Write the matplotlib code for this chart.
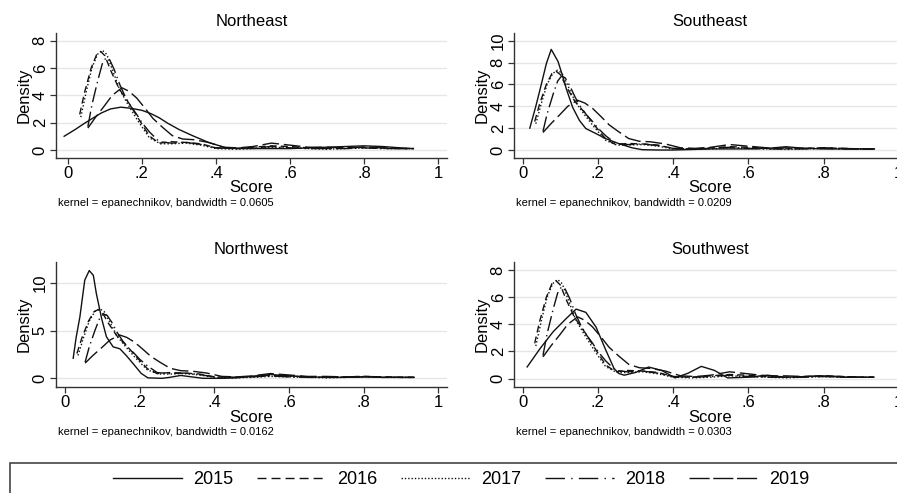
import matplotlib
matplotlib.use("Agg")
from matplotlib import pyplot as plt
from matplotlib.patches import Rectangle

plt.rcParams['font.family'] = ['Liberation Sans', 'DejaVu Sans']

W, H = 897, 493

years = ['2015', '2016', '2017', '2018', '2019']
regions = ['Northeast', 'Southeast', 'Northwest', 'Southwest']
bandwidths = ['0.0605', '0.0209', '0.0162', '0.0303']

# 2015 curve differs per region
ne_x15 = [-0.01, 0.02, 0.045, 0.066, 0.09, 0.115, 0.143, 0.17, 0.2, 0.225, 0.247, 0.27, 0.3, 0.338,
          0.38, 0.428, 0.46, 0.5, 0.55, 0.6, 0.65, 0.7, 0.75, 0.8, 0.85, 0.9, 0.93]
ne_y15 = [1.0, 1.5, 1.95, 2.3, 2.7, 3.0, 3.13, 3.05, 2.9, 2.65, 2.35, 1.95, 1.5, 1.03,
          0.55, 0.15, 0.1, 0.1, 0.1, 0.1, 0.15, 0.2, 0.25, 0.3, 0.25, 0.15, 0.1]
se_x15 = [0.019, 0.035, 0.046, 0.063, 0.076, 0.094, 0.105, 0.116, 0.133, 0.151, 0.168, 0.195, 0.221,
          0.256, 0.291, 0.318, 0.36, 0.4, 0.45, 0.5, 0.55, 0.6, 0.65, 0.7, 0.75, 0.8, 0.85, 0.9, 0.935]
se_y15 = [2.0, 4.0, 5.5, 7.9, 9.2, 8.1, 6.9, 5.6, 3.9, 2.7, 1.96, 1.5, 1.04,
          0.58, 0.2, 0.03, 0.0, 0.0, 0.05, 0.1, 0.1, 0.1, 0.15, 0.3, 0.15, 0.1, 0.1, 0.1, 0.1]
nw_x15 = [0.022, 0.03, 0.04, 0.053, 0.065, 0.076, 0.084, 0.098, 0.111, 0.129, 0.147, 0.164, 0.182,
          0.204, 0.222, 0.26, 0.28, 0.31, 0.34, 0.37, 0.42, 0.46, 0.5, 0.55, 0.6, 0.65, 0.7, 0.75,
          0.8, 0.85, 0.9, 0.935]
nw_y15 = [2.1, 4.3, 6.45, 10.3, 11.3, 10.8, 8.9, 6.3, 4.36, 3.3, 3.1, 2.4, 1.57,
          0.52, 0.05, 0.0, 0.1, 0.3, 0.15, 0.0, 0.0, 0.05, 0.2, 0.4, 0.25, 0.15, 0.1, 0.1,
          0.15, 0.1, 0.1, 0.1]
sw_x15 = [0.012, 0.046, 0.081, 0.116, 0.142, 0.168, 0.195, 0.221, 0.243, 0.256, 0.27, 0.3, 0.335,
          0.37, 0.405, 0.44, 0.475, 0.51, 0.545, 0.6, 0.65, 0.7, 0.75, 0.8, 0.85, 0.9, 0.93]
sw_y15 = [0.86, 2.2, 3.45, 4.43, 5.12, 4.88, 3.8, 2.1, 0.74, 0.37, 0.25, 0.45, 0.85,
          0.6, 0.05, 0.4, 0.9, 0.6, 0.05, 0.1, 0.25, 0.1, 0.15, 0.2, 0.1, 0.1, 0.1]

# 2016-2019 curves look the same in every panel
x16 = [0.032, 0.045, 0.063, 0.078, 0.089, 0.1, 0.116, 0.138, 0.168, 0.195, 0.221, 0.247, 0.28, 0.32,
       0.36, 0.4, 0.45, 0.5, 0.55, 0.6, 0.65, 0.7, 0.75, 0.8, 0.85, 0.9, 0.93]
y16 = [2.6, 4.2, 6.0, 7.0, 7.2, 6.9, 5.8, 4.5, 3.3, 2.1, 1.0, 0.5, 0.6, 0.55,
       0.45, 0.15, 0.1, 0.2, 0.3, 0.25, 0.15, 0.1, 0.15, 0.2, 0.15, 0.1, 0.1]
x17 = [0.035, 0.05, 0.065, 0.08, 0.093, 0.105, 0.12, 0.14, 0.165, 0.19, 0.22, 0.25, 0.28, 0.32,
       0.36, 0.4, 0.45, 0.5, 0.55, 0.6, 0.65, 0.7, 0.75, 0.8, 0.85, 0.9, 0.935]
y17 = [2.4, 4.3, 6.0, 7.0, 7.3, 7.0, 5.9, 4.4, 3.2, 2.1, 0.9, 0.45, 0.45, 0.5,
       0.35, 0.1, 0.05, 0.1, 0.2, 0.15, 0.1, 0.05, 0.1, 0.15, 0.1, 0.1, 0.1]
x18 = [0.054, 0.065, 0.081, 0.093, 0.103, 0.113, 0.125, 0.14, 0.155, 0.17, 0.186, 0.2, 0.221, 0.247,
       0.28, 0.32, 0.36, 0.4, 0.45, 0.5, 0.55, 0.6, 0.65, 0.7, 0.75, 0.8, 0.85, 0.9, 0.935]
y18 = [1.7, 3.3, 5.1, 6.3, 6.75, 6.6, 5.9, 4.8, 3.9, 3.2, 2.6, 2.0, 1.3, 0.6,
       0.5, 0.55, 0.4, 0.15, 0.1, 0.15, 0.25, 0.15, 0.1, 0.1, 0.1, 0.15, 0.1, 0.1, 0.1]
x19 = [0.054, 0.075, 0.098, 0.12, 0.146, 0.165, 0.186, 0.21, 0.23, 0.256, 0.282, 0.31, 0.34, 0.38,
       0.42, 0.46, 0.5, 0.55, 0.6, 0.65, 0.7, 0.75, 0.8, 0.85, 0.9, 0.935]
y19 = [1.6, 2.4, 3.2, 4.0, 4.55, 4.3, 3.8, 3.0, 2.3, 1.65, 1.05, 0.8, 0.75, 0.55,
       0.2, 0.15, 0.25, 0.5, 0.35, 0.2, 0.2, 0.15, 0.2, 0.15, 0.1, 0.1]

x_ticks = [0, 0.2, 0.4, 0.6, 0.8, 1]
x_ticklabels = ['0', '.2', '.4', '.6', '.8', '1']
y_ticks = [[0, 2, 4, 6, 8], [0, 2, 4, 6, 8, 10], [0, 5, 10], [0, 2, 4, 6, 8]]

# line patterns in the panels and (a bit longer) in the legend keys
styles = ['-', (0, (5, 3)), (0, (1, 1.6)), (0, (11, 3, 1, 3)), (0, (12, 3.5))]
key_styles = ['-', (0, (6.5, 3.6)), (0, (1, 1.4)), (0, (14, 4.5, 1, 4.5)), (0, (14.5, 2.6))]

# axes boxes in pixels: left, right, top, bottom ; limits
boxes = [(56, 447, 33, 158), (514, 912, 33, 158), (56, 447, 262, 387), (514, 912, 262, 387)]
xlims = [(-0.032, 1.024), (-0.023, 1.035), (-0.024, 1.023), (-0.023, 1.035)]
ylims = [(-0.59, 8.56), (-0.73, 10.7), (-0.91, 12.2), (-0.62, 8.59)]

curves15 = [(ne_x15, ne_y15), (se_x15, se_y15), (nw_x15, nw_y15), (sw_x15, sw_y15)]
others = [(x16, y16), (x17, y17), (x18, y18), (x19, y19)]

fig = plt.figure(figsize=(W / 100, H / 100), dpi=100)


def fx(px):
    return px / W


def fy(px):
    return 1 - px / H


for i in range(4):
    l, r, t, b = boxes[i]
    ax = fig.add_axes([fx(l), fy(b), (r - l) / W, (b - t) / H])
    series = [curves15[i]] + others
    for (xs, ys), ls in zip(series, styles):
        ax.plot(xs, ys, color='#111111', lw=1.0, linestyle=ls)
    ax.set_xlim(*xlims[i])
    ax.set_ylim(*ylims[i])
    ax.set_xticks(x_ticks)
    ax.set_xticklabels(x_ticklabels)
    ax.set_yticks(y_ticks[i])
    ax.set_yticklabels([str(v) for v in y_ticks[i]], rotation=90, va='center')
    ax.tick_params(labelsize=12, length=4, width=0.9, color='#333333')
    ax.tick_params(axis='x', pad=2)
    ax.tick_params(axis='y', pad=2)
    for s in ['top', 'right']:
        ax.spines[s].set_visible(False)
    for s in ['left', 'bottom']:
        ax.spines[s].set_color('#333333')
        ax.spines[s].set_linewidth(1.0)
    ax.grid(axis='y', color='#e6e6e6', lw=1.0)
    ax.set_axisbelow(True)
    ax.patch.set_alpha(0)

    cx = (l + r) / 2 if i % 2 == 0 else 710
    fig.text(fx(cx), fy(t - 12), regions[i], ha='center', va='center', fontsize=12)
    fig.text(fx(cx), fy(b + 30), 'Score', ha='center', va='center', fontsize=12)
    fig.text(fx(l - 32), fy((t + b) / 2), 'Density', ha='center', va='center',
             rotation=90, fontsize=12)
    fig.text(fx(l + 2), fy(b + 45), 'kernel = epanechnikov, bandwidth = ' + bandwidths[i],
             ha='left', va='center', fontsize=8)

# legend box, running off the bottom of the figure
fig.patches.append(Rectangle((fx(10), -0.1), fx(900), fy(463) + 0.1, transform=fig.transFigure,
                             fill=False, edgecolor='#444444', lw=1.2))
handles = [plt.Line2D([], [], color='#111111', lw=1.0, linestyle=ls) for ls in key_styles]
fig.legend(handles, years, loc='center', bbox_to_anchor=(fx(461), fy(480)), ncol=5,
           frameon=False, fontsize=13, handlelength=3.85, handletextpad=0.6, columnspacing=1.3)

plt.savefig('out.png', dpi=100)
